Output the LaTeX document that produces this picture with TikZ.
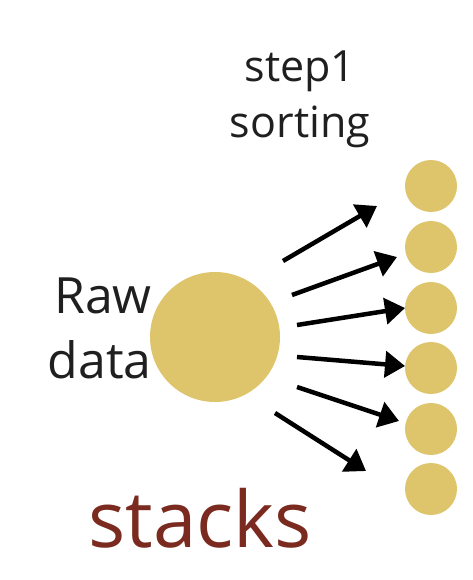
\documentclass[tikz,border=0pt]{standalone}
\usepackage{fontspec}
\setmainfont{Open Sans}
\usetikzlibrary{arrows.meta}
\definecolor{gold}{HTML}{DEC56B}
\definecolor{stackred}{HTML}{7A2A1E}
\tikzset{
  dot/.style={circle, fill=gold, inner sep=0pt, minimum size=52pt},
  arr/.style={line width=4.5pt, -{Triangle[length=20pt,width=26pt]}},
  lbl/.style={font=\fontsize{43}{56}\selectfont, text=black!88, align=center, inner sep=0pt},
  biglbl/.style={font=\fontsize{50}{60}\selectfont, text=black!88, inner sep=0pt},
}
\begin{document}
\begin{tikzpicture}[x=1pt,y=-1pt]
\useasboundingbox (0,0) rectangle (472,580);
\node[circle, fill=gold, inner sep=0pt, minimum size=130pt] (raw) at (215,337) {};
\node[dot] (s1) at (431,186) {};
\node[dot] (s2) at (431,247) {};
\node[dot] (s3) at (431,308) {};
\node[dot] (s4) at (431,368) {};
\node[dot] (s5) at (431,429) {};
\node[dot] (s6) at (431,489) {};
\node[lbl, anchor=base] (step) at (300,82) {step1};
\node[lbl, anchor=base] (sort) at (300,138) {sorting};
\node[biglbl, anchor=base east] (rawt) at (152,313) {Raw};
\node[biglbl, anchor=base east] (datat) at (152,378) {data};
\node[font=\fontsize{78}{80}\selectfont, text=stackred, anchor=base, inner sep=0pt] (stk) at (200,547) {stacks};
\coordinate (a1) at (283,261); \coordinate (b1) at (377,206);
\coordinate (a2) at (292,295); \coordinate (b2) at (397,257);
\coordinate (a3) at (297,325); \coordinate (b3) at (405,308);
\coordinate (a4) at (297,357); \coordinate (b4) at (405,366);
\coordinate (a5) at (297,387); \coordinate (b5) at (399,421);
\coordinate (a6) at (275,413); \coordinate (b6) at (366,471);
\foreach \i in {1,...,6} { \draw[arr] (a\i) -- (b\i); }
\end{tikzpicture}
\end{document}
